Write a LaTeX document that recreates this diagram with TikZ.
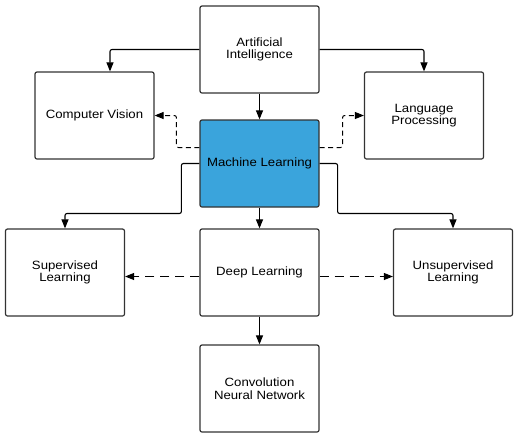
\documentclass[tikz,border=0pt]{standalone}
\usepackage{fontspec}
\setmainfont[FakeStretch=1.1]{Liberation Sans}
\usetikzlibrary{arrows.meta}
\definecolor{mlblue}{RGB}{58,164,220}
\begin{document}
\begin{tikzpicture}[x=1pt,y=-1pt,
  box/.style={draw=black!80,line width=1.2pt,rounded corners=2pt,minimum width=119pt,minimum height=87pt,align=center,font=\fontsize{12}{12.5}\selectfont},
  link/.style={line width=1.1pt,rounded corners=2pt,-{Triangle[length=9pt,width=7pt]}},
  dlink/.style={link,line width=1pt,dash pattern=on 5pt off 3.5pt},
  ddlink/.style={link,line width=1pt,dash pattern=on 9pt off 6pt}]
\useasboundingbox (0,0) rectangle (530,437);

\node[box] (ai) at (259.5,49.5) {Artificial\\Intelligence};
\node[box] (cv) at (94.5,115.5) {Computer Vision};
\node[box] (lp) at (424,115.5) {Language\\Processing};
\node[box,fill=mlblue] (ml) at (259.5,163.5) {Machine Learning};

\node[box] (sl) at (65,272.5) {Supervised\\Learning};
\node[box] (dl) at (259.5,272.5) {Deep Learning};
\node[box] (ul) at (453,272.5) {Unsupervised\\Learning};
\node[box] (cnn) at (259.5,388.5) {Convolution\\Neural Network};

\draw[link] (ai.west) -| ([xshift=15.5pt]cv.north);
\draw[link] (ai.east) -| (lp.north);
\draw[link] (ai) -- (ml);

\draw[dlink] ([yshift=16pt]ml.west) -- ++(-23,0) |- (cv.east);
\draw[dlink] ([yshift=16pt]ml.east) -- ++(23,0) |- (lp.west);

\draw[link] (ml.west) -- ++(-18,0) -- ++(0,50) -| (sl.north);
\draw[link] (ml.east) -- ++(18,0) -- ++(0,50) -| (ul.north);
\draw[link] (ml) -- (dl);

\draw[ddlink] ([yshift=-4pt]dl.west) -- ([yshift=-4pt]sl.east);
\draw[ddlink] ([yshift=-4pt]dl.east) -- ([yshift=-4pt]ul.west);
\draw[link] (dl) -- (cnn);
\end{tikzpicture}
\end{document}
